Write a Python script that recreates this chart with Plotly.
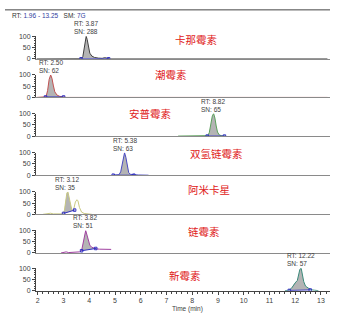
import plotly.graph_objects as go
import numpy as np

W, H = 349, 324

# ---- data ----
names = ["卡那霉素", "潮霉素", "安普霉素", "双氢链霉素", "阿米卡星", "链霉素", "新霉素"]
rt_labels = ["3.87", "2.50", "8.82", "5.38", "3.12", "3.82", "12.22"]
sn_labels = ["288", "62", "65", "63", "35", "51", "57"]
rt_values = [3.87, 2.50, 8.82, 5.38, 3.12, 3.82, 12.22]

t1 = [1.96, 3.5, 3.7, 3.75, 3.8, 3.85, 3.88, 3.92, 3.97, 4.02, 4.1, 4.2, 4.35, 4.5, 4.6, 4.7, 4.8, 13.25]
i1 = [0, 0, 1, 10, 45, 90, 100, 85, 50, 25, 12, 6, 3, 2, 5, 2, 0, 0]
t2 = [1.96, 2.25, 2.32, 2.38, 2.44, 2.5, 2.55, 2.6, 2.66, 2.75, 2.85, 3.0, 3.1, 13.25]
i2 = [0, 0, 3, 30, 80, 100, 85, 55, 25, 10, 5, 2, 0, 0]
t3 = [7.45, 8.5, 8.6, 8.66, 8.72, 8.78, 8.83, 8.88, 8.93, 8.98, 9.05, 9.15, 9.3]
i3 = [0, 0, 2, 15, 50, 90, 100, 80, 45, 18, 5, 1, 0]
t4 = [4.9, 5.15, 5.22, 5.28, 5.33, 5.37, 5.42, 5.47, 5.53, 5.6, 5.7, 5.9, 6.3]
i4 = [0, 2, 15, 55, 90, 100, 80, 40, 12, 4, 2, 1, 0]
t5 = [2.2, 2.4, 2.5, 2.6, 2.75, 2.95, 3.03, 3.08, 3.13, 3.17, 3.22, 3.27, 3.33, 3.4, 3.46, 3.52, 3.56, 3.62, 3.7, 3.8, 3.95, 4.1]
i5 = [0, 2, 5, 2, 1, 2, 15, 60, 95, 100, 70, 35, 16, 25, 55, 65, 60, 30, 10, 4, 2, 0]
t6 = [2.9, 3.0, 3.1, 3.2, 3.35, 3.5, 3.62, 3.7, 3.76, 3.81, 3.86, 3.91, 3.96, 4.02, 4.1, 4.2, 4.3, 4.4, 4.55, 4.7, 4.85]
i6 = [0, 3, 5, 2, 4, 3, 5, 10, 45, 85, 100, 80, 55, 35, 25, 20, 18, 17, 16, 18, 16]
t7 = [11.6, 11.75, 11.85, 11.95, 12.02, 12.08, 12.13, 12.18, 12.23, 12.28, 12.33, 12.4, 12.5, 12.6, 12.75, 12.9]
i7 = [0, 2, 10, 30, 38, 45, 70, 95, 100, 75, 40, 20, 10, 4, 2, 0]

# integration baselines (start t, end t) and (start i, end i)
base_t = [(3.68, 4.75), (2.3, 3.0), (8.58, 9.25), (4.93, 5.73), (3.0, 3.43), (3.7, 4.25), (11.77, 12.58)]
base_i = [(0, 0), (2, 2), (0, 0), (0, 0), (4, 19), (10, 20), (1, 3)]

times = [t1, t2, t3, t4, t5, t6, t7]
ints = [i1, i2, i3, i4, i5, i6, i7]
colors = ["#404040", "#c05050", "#5aa05a", "#4848c0", "#c8c880", "#a040a0", "#3a8a7a"]

x_ticks = list(range(2, 14))
y_ticks = [0, 50, 100]

# ---- layout geometry (pixels) ----
baselines = [56, 95.5, 135, 175, 215, 254.5, 293]
panel_h = 23
x0_px, x1_px = 36, 330
label_pos = [(196, 36), (171, 72), (150, 112), (216, 153), (209, 190), (204, 233), (185, 278)]

fig = go.Figure()
layout = dict(
    width=W, height=H, margin=dict(l=0, r=0, t=0, b=0),
    paper_bgcolor="white", plot_bgcolor="white", showlegend=False,
    font=dict(family="Liberation Sans, Arial", size=7, color="#404040"),
)
annotations = []
shapes = []

for k in range(7):
    n = k + 1
    xa = "x" if n == 1 else f"x{n}"
    ya = "y" if n == 1 else f"y{n}"
    t = np.array(times[k], dtype=float)
    v = np.array(ints[k], dtype=float)
    (bt0, bt1), (bi0, bi1) = base_t[k], base_i[k]
    mask = (t > bt0) & (t < bt1)
    fx = [bt0] + list(t[mask]) + [bt1, bt0]
    fy = [bi0] + list(v[mask]) + [bi1, bi0]
    fig.add_trace(go.Scatter(x=fx, y=fy, xaxis=xa, yaxis=ya, mode="lines", fill="toself",
                             fillcolor="#b4b4b4", line=dict(width=0), hoverinfo="skip"))
    fig.add_trace(go.Scatter(x=t, y=v, xaxis=xa, yaxis=ya, mode="lines",
                             line=dict(color=colors[k], width=1)))
    fig.add_trace(go.Scatter(x=[bt0, bt1], y=[bi0, bi1], xaxis=xa, yaxis=ya, mode="lines+markers",
                             line=dict(color="#3030c0", width=1),
                             marker=dict(symbol="square-open", size=2.5, color="#3030c0")))
    b = baselines[k]
    dom = [(H - b) / H, (H - b + panel_h) / H]
    xkey = "xaxis" if n == 1 else f"xaxis{n}"
    ykey = "yaxis" if n == 1 else f"yaxis{n}"
    bottom = (n == 7)
    layout[xkey] = dict(
        domain=[x0_px / W, x1_px / W], anchor=ya, range=[1.93, 13.35],
        showline=True, linecolor="#444" if bottom else "#8a8a8a", linewidth=1,
        showgrid=False, zeroline=False,
        ticks="outside" if bottom else "", ticklen=3, tickcolor="#444",
        tickvals=x_ticks if bottom else [], showticklabels=bottom,
        tickfont=dict(size=7, color="#404040"),
        minor=dict(dtick=0.2, ticks="outside", ticklen=2, tickcolor="#444") if bottom else dict(ticks=""),
    )
    layout[ykey] = dict(
        domain=dom, anchor=xa, range=[0, 100],
        showline=True, linecolor="#444", linewidth=1, showgrid=False, zeroline=False,
        ticks="outside", ticklen=3, tickcolor="#444", tickvals=y_ticks,
        tickfont=dict(size=7, color="#404040"),
        minor=dict(dtick=10, ticks="outside", ticklen=1.5, tickcolor="#444"),
    )
    annotations.append(dict(
        x=rt_values[k], y=100, xref=xa, yref=ya, yanchor="bottom", xanchor="center",
        text=f"RT: {rt_labels[k]}<br>SN: {sn_labels[k]}", showarrow=False,
        font=dict(size=6.5, color="#404040"), align="left", yshift=-1))
    lx, ly = label_pos[k]
    annotations.append(dict(
        x=lx / W, y=(H - ly) / H, xref="paper", yref="paper", xanchor="center", yanchor="middle",
        text=names[k], showarrow=False,
        font=dict(family="Noto Sans CJK SC", size=10.5, color="#e02020")))

annotations.append(dict(
    x=10 / W, y=(H - 12) / H, xref="paper", yref="paper", xanchor="left", yanchor="middle",
    text="RT: <span style='color:#3040a0'>1.96 - 13.25</span>   SM: <span style='color:#3040a0'>7G</span>",
    showarrow=False, font=dict(size=6.5, color="#303030")))
annotations.append(dict(
    x=187 / W, y=(H - 312) / H, xref="paper", yref="paper", xanchor="center", yanchor="middle",
    text="Time (min)", showarrow=False, font=dict(size=6.5, color="#404040")))
shapes.append(dict(type="line", xref="paper", yref="paper", x0=5 / W, x1=330 / W,
                   y0=(H - 6) / H, y1=(H - 6) / H, line=dict(color="#444", width=1)))

layout["annotations"] = annotations
layout["shapes"] = shapes
fig.update_layout(**layout)
fig.write_html("out.html")
